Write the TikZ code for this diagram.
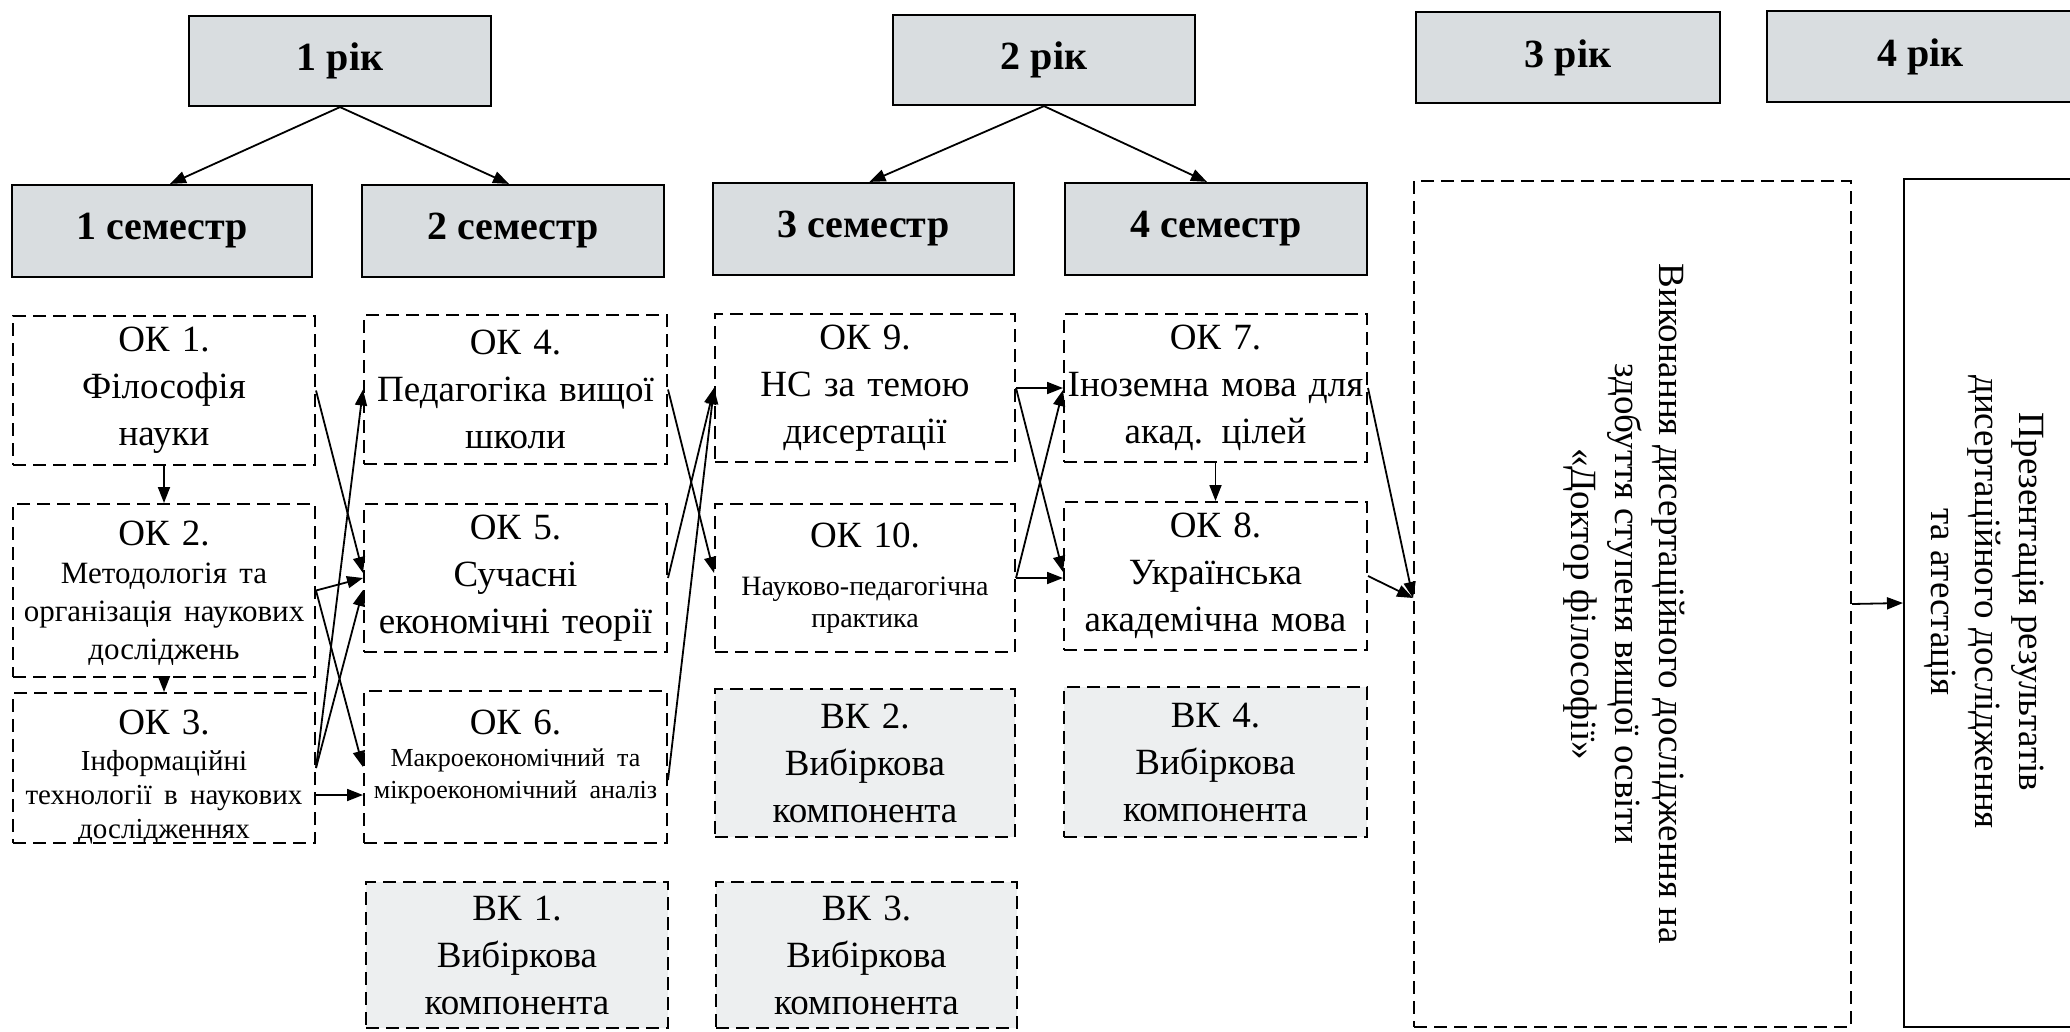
\documentclass[tikz,border=0pt]{standalone}
\usepackage{fontspec}
\setmainfont{Liberation Serif}
\usetikzlibrary{arrows.meta}
\definecolor{hdrgray}{RGB}{217,221,224}
\definecolor{vkgray}{RGB}{237,239,240}
\begin{document}
\begin{tikzpicture}[x=1pt,y=-1pt,
  hdr/.style={draw, line width=2.2pt, fill=hdrgray, inner sep=0pt,
    font=\fontsize{40}{46}\selectfont\bfseries},
  dbox/.style={draw, line width=2pt, dash pattern=on 13pt off 7pt, inner sep=0pt,
    align=center, text width=300pt, font=\fontsize{37}{47}\selectfont},
  vk/.style={dbox, fill=vkgray},
  arr/.style={line width=1.8pt, -{Triangle[length=16pt,width=12pt]}},
  rtext/.style={rotate=-90, align=center, font=\fontsize{37}{44}\selectfont}
]
\useasboundingbox (0,0) rectangle (2070,1031);
\clip (0,0) rectangle (2070,1031);
\fill[white] (0,0) rectangle (2070,1031);

% years
\node[hdr, minimum width=302pt, minimum height=90pt] (Y1) at (340,61) {1 рік};
\node[hdr, minimum width=302pt, minimum height=90pt] (Y2) at (1044,60) {2 рік};
\node[hdr, minimum width=304pt, minimum height=91pt] (Y3) at (1568,57.5) {3 рік};
\node[hdr, minimum width=307pt, minimum height=91pt] (Y4) at (1920.5,56.5) {4 рік};

% semesters
\node[hdr, minimum width=300pt, minimum height=92pt] (S1) at (162,231) {1 семестр};
\node[hdr, minimum width=302pt, minimum height=92pt] (S2) at (513,231) {2 семестр};
\node[hdr, minimum width=301pt, minimum height=92pt] (S3) at (863.5,229) {3 семестр};
\node[hdr, minimum width=302pt, minimum height=92pt] (S4) at (1216,229) {4 семестр};

% column 1
\node[dbox, minimum width=302pt, minimum height=149pt] (OK1) at (164,390.5)
  {ОК 1.\\Філософія\\науки};
\node[dbox, minimum width=302pt, minimum height=173pt] (OK2) at (164,590.5)
  {ОК 2.\\{\fontsize{31}{38}\selectfont Методологія та\\організація наукових\\досліджень\par}\vspace{-6pt}\hrule height 0pt};
\node[dbox, minimum width=302pt, minimum height=150pt] (OK3) at (164,768)
  {ОК 3.\\[2pt]{\fontsize{29}{34}\selectfont Інформаційні\\технології в наукових\\дослідженнях\par}\vspace{-18pt}\hrule height 0pt};

% column 2
\node[dbox, minimum width=303pt, minimum height=149pt] (OK4) at (515.5,389.5)
  {ОК 4.\\Педагогіка вищої\\школи};
\node[dbox, minimum width=303pt, minimum height=148pt] (OK5) at (515.5,578)
  {ОК 5.\\Сучасні\\економічні теорії};
\node[dbox, minimum width=303pt, minimum height=152pt] (OK6) at (515.5,767)
  {ОК 6.\\{\fontsize{26}{32}\selectfont Макроекономічний та\\мікроекономічний аналіз\par}\vspace{20pt}\hrule height 0pt};
\node[vk, minimum width=302pt, minimum height=146pt] (VK1) at (517,955)
  {ВК 1.\\Вибіркова\\компонента};

% column 3
\node[dbox, minimum width=300pt, minimum height=148pt] (OK9) at (865,388)
  {ОК 9.\\НС за темою\\дисертації};
\node[dbox, minimum width=300pt, minimum height=148pt] (OK10) at (865,578)
  {ОК 10.\\[16pt]{\fontsize{28}{32}\selectfont Науково-педагогічна\\практика\par}};
\node[vk, minimum width=300pt, minimum height=148pt] (VK2) at (865,763)
  {ВК 2.\\Вибіркова\\компонента};
\node[vk, minimum width=301pt, minimum height=146pt] (VK3) at (866.5,955)
  {ВК 3.\\Вибіркова\\компонента};

% column 4
\node[dbox, minimum width=303pt, minimum height=148pt] (OK7) at (1215.5,388)
  {ОК 7.\\Іноземна мова для\\акад. цілей};
\node[dbox, minimum width=303pt, minimum height=148pt] (OK8) at (1215.5,576)
  {ОК 8.\\Українська\\академічна мова};
\node[vk, minimum width=303pt, minimum height=150pt] (VK4) at (1215.5,762)
  {ВК 4.\\Вибіркова\\компонента};

% dissertation and presentation
\node[draw, line width=2pt, dash pattern=on 13pt off 7pt, minimum width=437pt,
  minimum height=846pt, inner sep=0pt] (Diss) at (1632.5,604) {};
\node[rtext] (DissT) at (1624,604)
  {Виконання дисертаційного дослідження на\\здобуття ступеня вищої освіти\\«Доктор філософії»};
\node[draw, line width=2pt, minimum width=176pt, minimum height=848pt, inner sep=0pt]
  (Pres) at (1992,603) {};
\node[rtext] (PresT) at (1984,602)
  {Презентація результатів\\дисертаційного дослідження\\та атестація};

% year -> semester
\draw[arr] (Y1.south) -- ([xshift=8pt]S1.north);
\draw[arr] (Y1.south) -- ([xshift=-4pt]S2.north);
\draw[arr] (Y2.south) -- ([xshift=6pt]S3.north);
\draw[arr] (Y2.south) -- ([xshift=-9pt]S4.north);

% vertical
\draw[arr] (OK1.south) -- (OK2.north);
\draw[arr] (OK2.south) -- (OK3.north);
\draw[arr] (OK7.south) -- (OK8.north);

% column 1 -> column 2
\draw[arr] (OK1.east) -- ([yshift=5pt]OK5.west);
\draw[arr] (OK2.east) -- (OK5.west);
\draw[arr] (OK2.east) -- (OK6.west);
\draw[arr] (OK3.east) -- (OK4.west);
\draw[arr] (OK3.east) -- ([yshift=-12pt]OK5.west);
\draw[arr] ([yshift=-27pt]OK3.east) -- ([yshift=-28pt]OK6.west);

% column 2 -> column 3
\draw[arr] (OK4.east) -- ([yshift=5pt]OK10.west);
\draw[arr] (OK5.east) -- (OK9.west);
\draw[arr] ([yshift=-13pt]OK6.east) -- (OK9.west);

% column 3 -> column 4
\draw[arr] (OK9.east) -- (OK7.west);
\draw[arr] (OK9.east) -- ([yshift=4pt]OK8.west);
\draw[arr] (OK10.east) -- ([yshift=-2pt]OK7.west);
\draw[arr] (OK10.east) -- ([yshift=-2pt]OK8.west);

% to dissertation and presentation
\coordinate (DissIn) at ([yshift=6pt]Diss.west);
\draw[arr] (OK7.east) -- (DissIn);
\draw[arr] (OK8.east) -- (DissIn);
\draw[arr] (Diss.east) -- (Pres.west);
\end{tikzpicture}
\end{document}
